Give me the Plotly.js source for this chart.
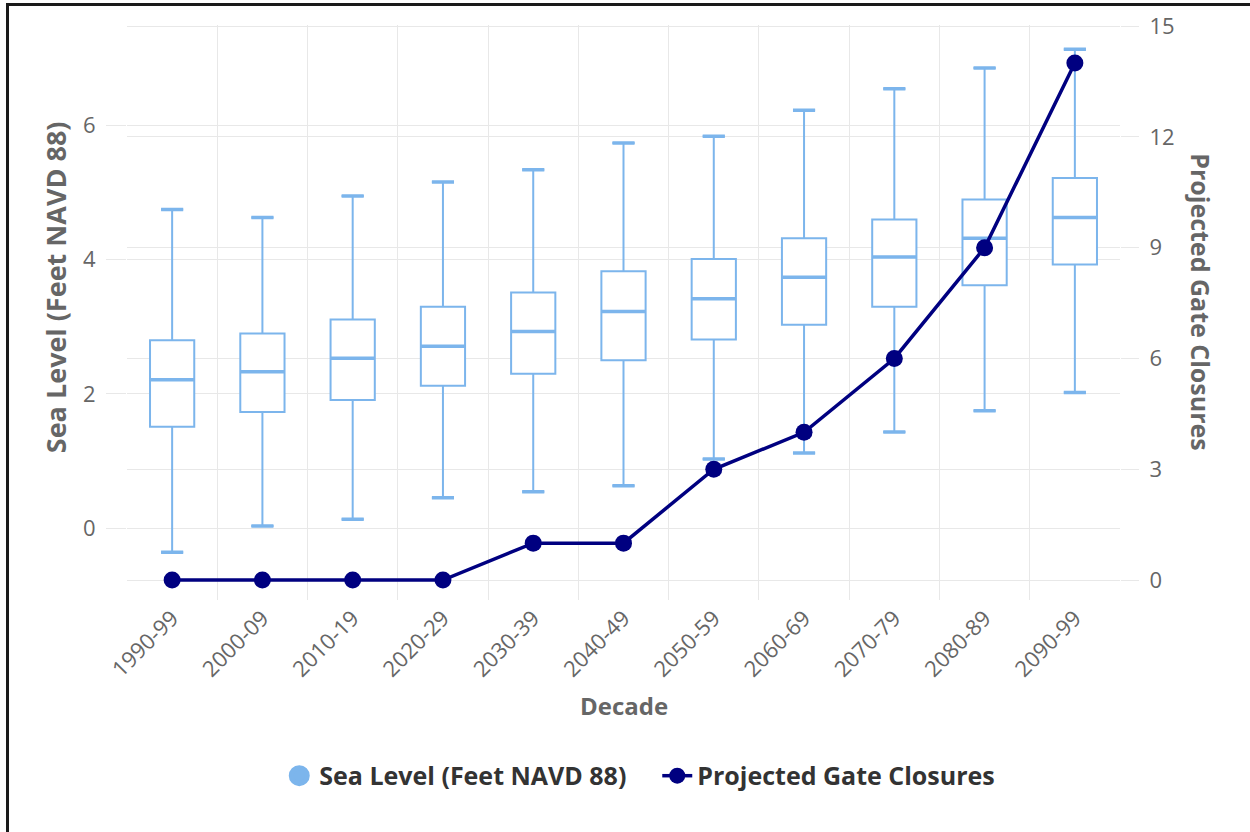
<!DOCTYPE html>
<html>
<head>
<meta charset="utf-8">
<script src="https://cdn.plot.ly/plotly-3.0.1.min.js"></script>
<style>
  html, body { margin: 0; padding: 0; background: #fff; overflow: hidden; }
  #chart { width: 1250px; height: 832px; }
  #frame { position: absolute; left: 6px; top: 3px; width: 1260px; height: 850px;
           border: 3px solid #1a1a1a; pointer-events: none; box-sizing: border-box; }
</style>
</head>
<body>
<div id="chart"></div>
<div id="frame"></div>
<script>
// ---- Data ----
const decades = ["1990-99","2000-09","2010-19","2020-29","2030-39","2040-49","2050-59","2060-69","2070-79","2080-89","2090-99"];
const upperWhisker = [4.75, 4.63, 4.95, 5.16, 5.34, 5.74, 5.84, 6.23, 6.55, 6.86, 7.14];
const q3Values     = [2.80, 2.90, 3.11, 3.30, 3.51, 3.83, 4.01, 4.32, 4.60, 4.90, 5.22];
const medianValues = [2.21, 2.33, 2.53, 2.71, 2.93, 3.23, 3.42, 3.74, 4.04, 4.32, 4.63];
const q1Values     = [1.51, 1.73, 1.91, 2.12, 2.30, 2.50, 2.81, 3.03, 3.30, 3.62, 3.93];
const lowerWhisker = [-0.36, 0.03, 0.13, 0.45, 0.54, 0.63, 1.03, 1.12, 1.43, 1.75, 2.02];
const gateClosures = [0, 0, 0, 0, 1, 1, 3, 4, 6, 9, 14];

const seaLevelName = "Sea Level (Feet NAVD 88)";
const gateName = "Projected Gate Closures";
const leftTicks = [0, 2, 4, 6];
const rightTicks = [0, 3, 6, 9, 12, 15];

// ---- Styles ----
const boxColor = "#7cb5ec";
const lineColor = "#000080";
const gridColor = "#e8e8e8";
const textColor = "#666666";
const FONT = "Open Sans, sans-serif";

function degenerateBox(vals, width, lw) {
  return {
    type: "box", x: decades,
    q1: vals, median: vals, q3: vals, lowerfence: vals, upperfence: vals,
    width: width, whiskerwidth: 0,
    fillcolor: "rgba(0,0,0,0)",
    line: { color: boxColor, width: lw },
    boxpoints: false, showlegend: false, hoverinfo: "skip"
  };
}

const traces = [
  {
    type: "box", x: decades,
    q1: q1Values, median: medianValues, q3: q3Values,
    lowerfence: lowerWhisker, upperfence: upperWhisker,
    width: 0.49, whiskerwidth: 0.5,
    fillcolor: "#ffffff",
    line: { color: boxColor, width: 2 },
    boxpoints: false, showlegend: false, name: seaLevelName
  },
  degenerateBox(medianValues, 0.49, 3.5),
  degenerateBox(upperWhisker, 0.245, 3.5),
  degenerateBox(lowerWhisker, 0.245, 3.5),
  {
    type: "scatter", mode: "markers", x: [null], y: [null],
    name: seaLevelName,
    marker: { color: boxColor, size: 22, symbol: "circle", line: { color: boxColor, width: 5 } },
    hoverinfo: "skip"
  },
  {
    type: "scatter", mode: "lines+markers", x: decades, y: gateClosures,
    yaxis: "y2", name: gateName,
    line: { color: lineColor, width: 3.5 },
    marker: { color: lineColor, size: 17, symbol: "circle" }
  }
];

const layout = {
  width: 1250, height: 832,
  margin: { l: 127, r: 130, t: 25, b: 232 },
  paper_bgcolor: "#ffffff", plot_bgcolor: "#ffffff",
  font: { family: FONT, color: textColor },
  boxmode: "overlay",
  showlegend: true,
  legend: {
    orientation: "h", x: 0.534, xanchor: "center", y: -0.306, yanchor: "middle",
    font: { family: FONT, size: 25, color: "#333333", weight: 700 },
    itemsizing: "trace", traceorder: "normal",
    entrywidth: 333, entrywidthmode: "pixels"
  },
  xaxis: {
    type: "category", range: [-0.5, 10.5],
    tickson: "boundaries", showgrid: true, gridcolor: gridColor, gridwidth: 1,
    ticks: "", tickangle: -45,
    tickfont: { family: FONT, size: 22, color: textColor },
    showline: false, zeroline: false
  },
  yaxis: {
    range: [-1.073, 7.50], tickvals: leftTicks,
    showgrid: true, gridcolor: gridColor, gridwidth: 1,
    ticks: "outside", ticklen: 20, tickcolor: gridColor, tickwidth: 1,
    tickfont: { family: FONT, size: 22, color: textColor },
    ticklabelstandoff: 6,
    showline: false, zeroline: false
  },
  yaxis2: {
    overlaying: "y", side: "right",
    range: [-0.54, 15.03], tickvals: rightTicks,
    showgrid: true, gridcolor: gridColor, gridwidth: 1,
    ticks: "outside", ticklen: 18, tickcolor: gridColor, tickwidth: 1,
    tickfont: { family: FONT, size: 22, color: textColor },
    ticklabelstandoff: 6,
    showline: false, zeroline: false
  },
  annotations: [
    { text: "Sea Level (Feet NAVD 88)", xref: "paper", yref: "paper",
      x: -0.0725, y: 0.544, xanchor: "center", yanchor: "middle", textangle: -90,
      showarrow: false, font: { family: FONT, size: 27, color: textColor, weight: 700 } },
    { text: "Projected Gate Closures", xref: "paper", yref: "paper",
      x: 1.0815, y: 0.518, xanchor: "center", yanchor: "middle", textangle: 90,
      showarrow: false, font: { family: FONT, size: 25, color: textColor, weight: 700 } },
    { text: "Decade", xref: "paper", yref: "paper",
      x: 0.5005, y: -0.184, xanchor: "center", yanchor: "middle",
      showarrow: false, font: { family: FONT, size: 24, color: textColor, weight: 700 } }
  ]
};

Plotly.newPlot("chart", traces, layout, { displayModeBar: false, staticPlot: true });
</script>
</body>
</html>
